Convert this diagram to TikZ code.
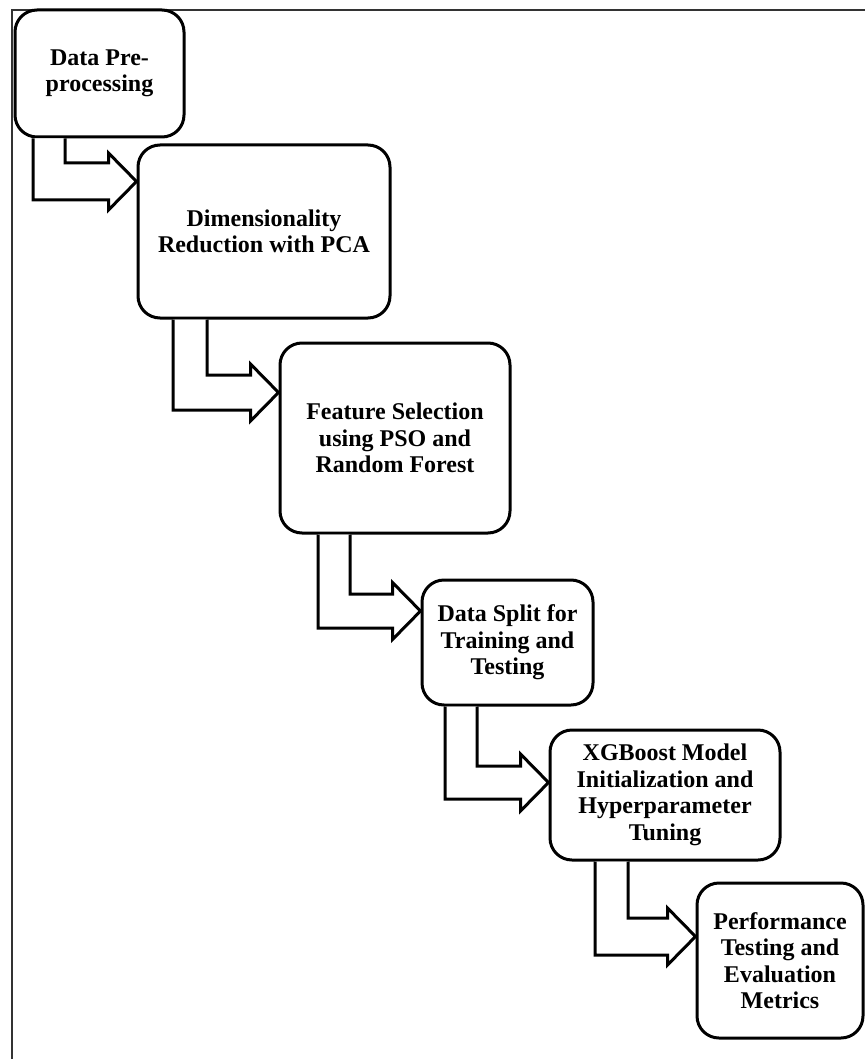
\documentclass[tikz,border=0pt]{standalone}
\usepackage{fontspec}
\setmainfont{Liberation Serif}
\usetikzlibrary{calc}
\tikzset{
  stage/.style={draw=black, line width=3pt, fill=white, rounded corners=22pt,
    inner sep=0pt, align=center, font=\fontsize{24}{26.5}\selectfont\bfseries},
  blockarr/.style={draw=black, line width=3pt, line join=miter, fill=white},
  frameline/.style={draw=black!80, line width=1.6pt}
}
\newcommand{\blkarrow}[6]{% from, to, outer x, inner x, upper y, lower y
  \coordinate (tip) at ($(#2.west |- 0,#5)!0.5!(#2.west |- 0,#6)$);
  \coordinate (hb) at ($(tip)+(-28,0)$);
  \coordinate (hu) at ($(hb)+(0,-28.5)$);
  \coordinate (hl) at ($(hb)+(0,28.5)$);
  \draw[blockarr] (#3,0 |- #1.south) -- (#3,#6) -- (hb |- 0,#6)
    -- (hl) -- (tip) -- (hu)
    -- (hb |- 0,#5) -- (#4,#5) -- (#4,0 |- #1.south);
}
\begin{document}
\begin{tikzpicture}[x=1pt,y=-1pt]
\useasboundingbox (0,0) rectangle (865,1059);
% outer frame (top and left visible)
\draw[frameline] (12,1059) -- (12,10) -- (865,10);

\node[stage, minimum width=169pt, minimum height=127pt] (b1) at (99.5,73.5) {Data Pre-\\processing};
\node[stage, minimum width=252pt, minimum height=173pt] (b2) at (264,231.5) {Dimensionality\\Reduction with PCA};
\node[stage, minimum width=230pt, minimum height=190pt] (b3) at (395,438) {Feature Selection\\using PSO and\\Random Forest};
\node[stage, minimum width=171pt, minimum height=125pt] (b4) at (507.5,642.5) {Data Split for\\Training and\\Testing};
\node[stage, minimum width=230pt, minimum height=130pt] (b5) at (665,795) {XGBoost Model\\Initialization and\\Hyperparameter\\Tuning};
\node[stage, minimum width=166pt, minimum height=155pt] (b6) at (780,960.5) {Performance\\Testing and\\Evaluation\\Metrics};

\blkarrow{b1}{b2}{33}{65}{163}{200}
\blkarrow{b2}{b3}{173}{207}{375}{410}
\blkarrow{b3}{b4}{318}{350}{594}{628}
\blkarrow{b4}{b5}{445}{477}{766}{799}
\blkarrow{b5}{b6}{595}{628}{918}{955}
\end{tikzpicture}
\end{document}
